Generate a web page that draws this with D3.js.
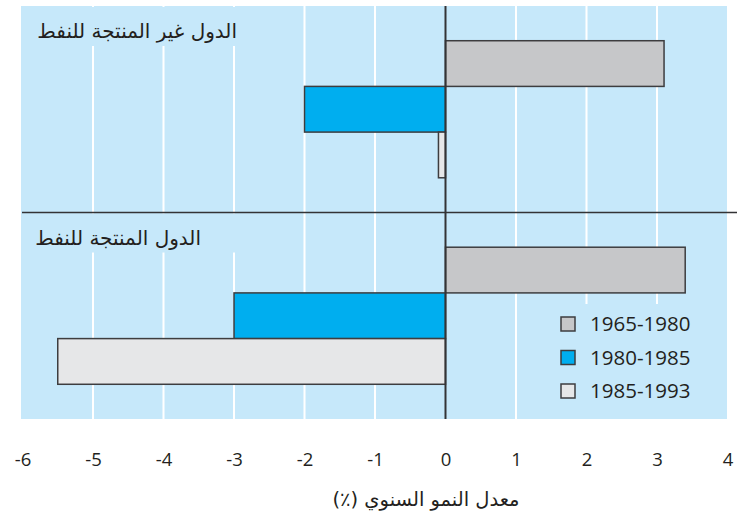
<!DOCTYPE html>
<html>
<head>
<meta charset="utf-8">
<script src="https://cdn.jsdelivr.net/npm/d3@7"></script>
<style>
  html, body { margin: 0; padding: 0; background: #fff; }
  svg { display: block; }
</style>
</head>
<body>
<svg id="chart" width="739" height="523"></svg>
<script>
// Country groups, top to bottom
const groups = ["الدول غير المنتجة للنفط", "الدول المنتجة للنفط"];
// Periods (legend order, bar order within each group)
const periods = ["1965-1980", "1980-1985", "1985-1993"];
// Average annual growth rate (%) per group, one value per period
const nonOilValues = [3.1, -2.0, -0.1];
const oilValues = [3.4, -3.0, -5.5];
// Axis ticks
const xTicks = [-6, -5, -4, -3, -2, -1, 0, 1, 2, 3, 4];
const xTitle = "معدل النمو السنوي (٪)";

const periodColors = ["#c6c7c9", "#00aeef", "#e6e7e8"];
const rows = groups.map((g, i) => ({
  group: g,
  values: periods.map((p, j) => ({ period: p, value: [nonOilValues, oilValues][i][j] }))
}));

const svg = d3.select("#chart");
const plot = { left: 21, right: 727, top: 6, bottom: 419 };
const latin = "'Open Sans', 'Noto Sans', sans-serif";
const arabic = "'DejaVu Sans', sans-serif";

const x = d3.scaleLinear().domain([-6, 4]).range([22.5, 727.5]);
const y = d3.scaleBand().domain(groups).range([plot.top, plot.bottom]).padding(0);
const yInner = d3.scaleBand().domain(periods).range([0, y.bandwidth()])
  .paddingInner(0).paddingOuter(0.76);
const color = d3.scaleOrdinal().domain(periods).range(periodColors);

// Plot background
svg.append("rect")
  .attr("x", plot.left).attr("y", plot.top)
  .attr("width", plot.right - plot.left).attr("height", plot.bottom - plot.top)
  .attr("fill", "#c6e8fa");

// White vertical gridlines
svg.append("g")
  .selectAll("line")
  .data(xTicks.filter(t => t !== 0 && t !== -6 && t !== 4))
  .join("line")
  .attr("x1", d => x(d)).attr("x2", d => x(d))
  .attr("y1", plot.top).attr("y2", plot.bottom)
  .attr("stroke", "#ffffff").attr("stroke-width", 2);

// Group label panels (mask gridlines behind the titles)
const labelPanel = { width: 216, height: 40 };
svg.append("g")
  .selectAll("rect")
  .data(groups)
  .join("rect")
  .attr("x", plot.left)
  .attr("y", d => y(d) + 1)
  .attr("width", labelPanel.width)
  .attr("height", labelPanel.height - 1)
  .attr("fill", "#c6e8fa");

svg.append("g")
  .selectAll("text")
  .data(groups)
  .join("text")
  .attr("x", (d, i) => i === 0 ? 237 : 201)
  .attr("y", d => y(d) + 32)
  .attr("direction", "rtl")
  .attr("text-anchor", "start")
  .attr("font-family", arabic)
  .attr("font-size", 20)
  .attr("fill", "#231f20")
  .text(d => d);

// Legend panel
const legend = { x: 546, y: 304, w: plot.right - 546, h: plot.bottom - 304 };
svg.append("rect")
  .attr("x", legend.x).attr("y", legend.y)
  .attr("width", legend.w).attr("height", legend.h)
  .attr("fill", "#c6e8fa");

// Bars
const gRows = svg.append("g")
  .selectAll("g")
  .data(rows)
  .join("g")
  .attr("transform", d => `translate(0,${y(d.group)})`);

gRows.selectAll("rect")
  .data(d => d.values)
  .join("rect")
  .attr("x", d => x(Math.min(0, d.value)))
  .attr("y", d => yInner(d.period))
  .attr("width", d => Math.abs(x(d.value) - x(0)))
  .attr("height", yInner.bandwidth())
  .attr("fill", d => color(d.period))
  .attr("stroke", "#3d3d3f")
  .attr("stroke-width", 1.5);

// Divider between the two groups
svg.append("line")
  .attr("x1", 22).attr("x2", 737)
  .attr("y1", y(groups[1])).attr("y2", y(groups[1]))
  .attr("stroke", "#333335").attr("stroke-width", 1.6);

// Zero line
svg.append("line")
  .attr("x1", x(0)).attr("x2", x(0))
  .attr("y1", plot.top).attr("y2", plot.bottom)
  .attr("stroke", "#333335").attr("stroke-width", 2);

// Legend entries
const leg = svg.append("g")
  .selectAll("g")
  .data(periods)
  .join("g")
  .attr("transform", (d, i) => `translate(561,${324 + i * 33.5})`);
leg.append("rect")
  .attr("x", 0).attr("y", -7)
  .attr("width", 14).attr("height", 14)
  .attr("fill", d => color(d))
  .attr("stroke", "#3d3d3f").attr("stroke-width", 1.5);
leg.append("text")
  .attr("x", 29).attr("y", 0)
  .attr("dy", "0.36em")
  .attr("font-family", latin)
  .attr("font-size", 20.5)
  .attr("fill", "#231f20")
  .text(d => d);

// X axis (labels only)
const xAxis = d3.axisBottom(x)
  .tickValues(xTicks)
  .tickSize(0)
  .tickPadding(0)
  .tickFormat(d => d < 0 ? "-" + Math.abs(d) : String(d));
const axisG = svg.append("g")
  .attr("transform", `translate(0,${453})`)
  .call(xAxis);
axisG.select(".domain").remove();
axisG.selectAll("text")
  .attr("font-family", latin)
  .attr("font-size", 18.5)
  .attr("fill", "#231f20");

// Axis title
svg.append("text")
  .attr("x", 426).attr("y", 506)
  .attr("text-anchor", "middle")
  .attr("direction", "rtl")
  .attr("font-family", arabic)
  .attr("font-size", 19.5)
  .attr("fill", "#231f20")
  .text(xTitle);
</script>
</body>
</html>
